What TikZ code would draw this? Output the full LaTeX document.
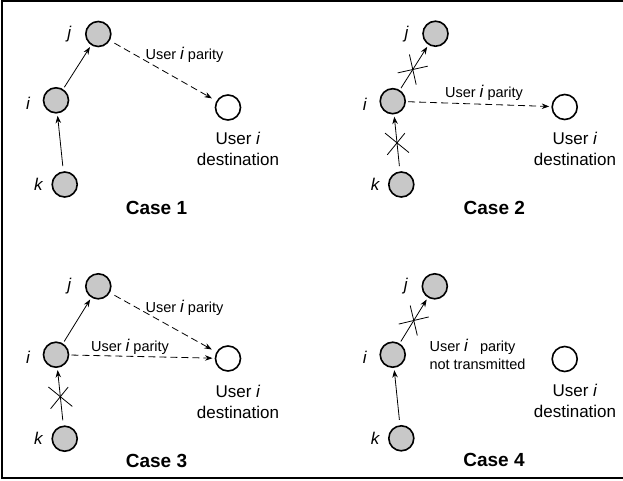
\documentclass[tikz,border=0pt]{standalone}
\usepackage{fontspec}
\setmainfont{Liberation Sans}
\usetikzlibrary{arrows.meta,positioning,shapes.misc}
\definecolor{nodegray}{RGB}{200,200,200}
\tikzset{>={Stealth[length=7.5pt,width=5.5pt]}}
\tikzset{
  user/.style={circle,draw,line width=1.6pt,fill=nodegray,minimum size=25pt,inner sep=0pt,outer sep=3pt},
  dest/.style={user,fill=white},
  vlabel/.style={font=\fontsize{17}{20}\selectfont\itshape},
  link/.style={->,line width=0.8pt},
  parity/.style={->,line width=0.8pt,dash pattern=on 7pt off 4pt},
  blocked/.style={cross out,draw,line width=0.8pt,minimum width=21pt,minimum height=21pt,inner sep=0pt,sloped},
  ptext/.style={font=\fontsize{14.5}{17.5}\selectfont},
  dtext/.style={font=\fontsize{17}{21}\selectfont,align=center},
  casetext/.style={font=\fontsize{19}{22}\selectfont\bfseries}
}
\newcommand{\pari}{{\fontsize{17}{17}\selectfont\itshape i}}

\begin{document}
\begin{tikzpicture}[x=1pt,y=-1pt]
  \useasboundingbox (0,0) rectangle (623,481);
  \draw[line width=1.4pt] (623,1) -- (2,1) -- (2,478) -- (623,478);

  \node[user] (j1) at (98.3,34) {};
  \node[user] (i1) at (56,100.3) {};
  \node[user] (k1) at (64.7,184.5) {};
  \node[dest] (d1) at (228,107.5) {};
  \node[vlabel,left=8pt of j1] (lj1) {j};
  \node[vlabel,left=7pt of i1,yshift=-3pt] (li1) {i};
  \node[vlabel,left=3pt of k1] (lk1) {k};
  \draw[link] (i1) -- (j1);
  \draw[link,shorten <=3pt] (k1) -- (i1);
  \draw[parity,shorten <=3pt,shorten >=3pt] (j1) -- (d1);
  \node[ptext] (p1) at (184.5,55) {User \pari\ parity};
  \node[dtext] (t1) at (238,148.5) {User \textit{i}\\destination};
  \node[casetext] (c1) at (156.5,208) {Case 1};

  \node[user] (j2) at (435.5,33.7) {};
  \node[user] (i2) at (392.7,101.2) {};
  \node[user] (k2) at (401.3,184.5) {};
  \node[dest] (d2) at (564.7,107) {};
  \node[vlabel,left=8pt of j2] (lj2) {j};
  \node[vlabel,left=7pt of i2,yshift=-3pt] (li2) {i};
  \node[vlabel,left=3pt of k2] (lk2) {k};
  \draw[link] (i2) -- node[blocked,pos=.45] (x2a) {} (j2);
  \draw[link,shorten <=3pt] (k2) -- node[blocked] (x2b) {} (i2);
  \draw[parity] (i2) -- (d2);
  \node[ptext] (p2) at (484,93) {User \pari\ parity};
  \node[dtext] (t2) at (575,148.5) {User \textit{i}\\destination};
  \node[casetext] (c2) at (494.3,208) {Case 2};

  \node[user] (j3) at (98.3,286.3) {};
  \node[user] (i3) at (56,354.7) {};
  \node[user] (k3) at (64.7,438.7) {};
  \node[dest] (d3) at (228,358.5) {};
  \node[vlabel,left=8pt of j3] (lj3) {j};
  \node[vlabel,left=7pt of i3,yshift=-3pt] (li3) {i};
  \node[vlabel,left=3pt of k3] (lk3) {k};
  \draw[link] (i3) -- (j3);
  \draw[link,shorten <=3pt] (k3) -- node[blocked] (x3) {} (i3);
  \draw[parity,shorten <=3pt,shorten >=3pt] (j3) -- (d3);
  \draw[parity] (i3) -- (d3);
  \node[ptext] (p3a) at (184.5,308) {User \pari\ parity};
  \node[ptext] (p3b) at (130,347) {User \pari\ parity};
  \node[dtext] (t3) at (238,402) {User \textit{i}\\destination};
  \node[casetext] (c3) at (156.5,461) {Case 3};

  \node[user] (j4) at (434.8,286.3) {};
  \node[user] (i4) at (392.7,354.7) {};
  \node[user] (k4) at (401.3,438.3) {};
  \node[dest] (d4) at (564.7,359) {};
  \node[vlabel,left=8pt of j4] (lj4) {j};
  \node[vlabel,left=7pt of i4,yshift=-3pt] (li4) {i};
  \node[vlabel,left=3pt of k4] (lk4) {k};
  \draw[link] (i4) -- node[blocked] (x4) {} (j4);
  \draw[link,shorten <=3pt] (k4) -- (i4);
  \node[ptext,align=left,anchor=west] (p4) at (426,354.5) {User \pari\ \ \ parity\\not transmitted};
  \node[dtext] (t4) at (575,401) {User \textit{i}\\destination};
  \node[casetext] (c4) at (494,460) {Case 4};
\end{tikzpicture}
\end{document}
